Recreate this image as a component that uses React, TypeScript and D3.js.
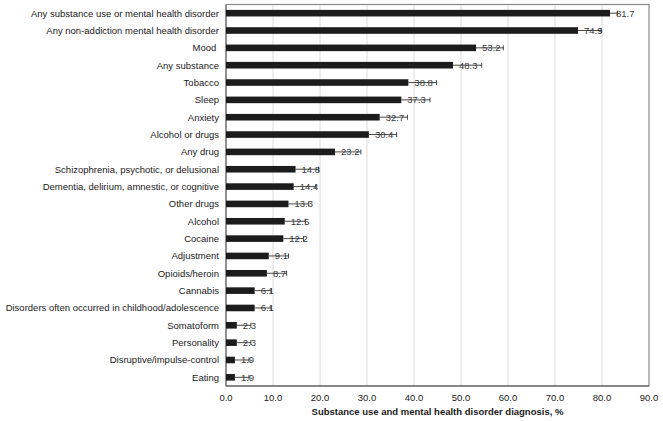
import React from 'react';
import * as d3 from 'd3';

const categories = [
  'Any substance use or mental health disorder',
  'Any non-addiction mental health disorder',
  'Mood\u00a0',
  'Any substance',
  'Tobacco',
  'Sleep',
  'Anxiety',
  'Alcohol or drugs',
  'Any drug',
  'Schizophrenia, psychotic, or delusional',
  'Dementia, delirium, amnestic, or cognitive',
  'Other drugs',
  'Alcohol',
  'Cocaine',
  'Adjustment',
  'Opioids/heroin',
  'Cannabis',
  'Disorders often occurred in childhood/adolescence',
  'Somatoform',
  'Personality',
  'Disruptive/impulse-control',
  'Eating',
];

const values = [81.7, 74.9, 53.2, 48.3, 38.8, 37.3, 32.7, 30.4, 23.2, 14.8, 14.4, 13.3, 12.5, 12.2, 9.1, 8.7, 6.1, 6.1, 2.3, 2.3, 1.9, 1.9];
const upperCI = [83.3, 79.8, 59.0, 54.4, 44.8, 43.4, 38.6, 36.3, 28.7, 19.7, 19.1, 17.6, 16.9, 16.5, 13.3, 12.9, 9.6, 9.6, 5.3, 5.3, 4.9, 4.9];
const xTicks = [0, 10, 20, 30, 40, 50, 60, 70, 80, 90];

const W = 663, H = 421;
const left = 226, right = 649, top = 4.5, bottom = 386;
const FONT = 'Liberation Sans, Arial, sans-serif';

export default function App() {
  const x = d3.scaleLinear().domain([0, 90]).range([left, right]);
  const y = d3.scaleBand().domain(categories).range([top, bottom]).paddingInner(0.62).paddingOuter(0.31);
  const bh = y.bandwidth();

  return (
    <svg width={W} height={H} style={{ position: 'absolute', left: 0, top: 0, background: '#fff' }} fontFamily={FONT}>
      {xTicks.slice(1, -1).map(t => (
        <line key={t} x1={x(t)} x2={x(t)} y1={top} y2={bottom} stroke="#dcdcdc" strokeWidth={1} />
      ))}
      <rect x={left} y={top} width={right - left} height={bottom - top} fill="none" stroke="#8a8a8a" strokeWidth={1.2} />
      <line x1={left} x2={right} y1={bottom} y2={bottom} stroke="#555" strokeWidth={1.2} />
      <line x1={left} x2={left} y1={top} y2={bottom} stroke="#777" strokeWidth={1.2} />
      {categories.map((c, i) => {
        const cy = (y(c) as number) + bh / 2;
        const v = values[i];
        const u = upperCI[i];
        return (
          <g key={c}>
            <text x={219} y={cy} fontSize={9.5} textAnchor="end" dominantBaseline="central" fill="#1a1a1a">{c}</text>
            <rect x={x(0)} y={cy - bh / 2} width={x(v) - x(0)} height={bh} fill="#1c1c1c" />
            <text x={x(v) + 6} y={cy} fontSize={9.5} dominantBaseline="central" fill="#3a3a3a">{v.toFixed(1)}</text>
            <line x1={x(v)} x2={x(u)} y1={cy} y2={cy} stroke="#333" strokeWidth={0.9} />
            <line x1={x(u)} x2={x(u)} y1={cy - 2.5} y2={cy + 2.5} stroke="#333" strokeWidth={0.9} />
          </g>
        );
      })}
      {xTicks.map(t => (
        <text key={t} x={x(t)} y={397} fontSize={9.5} textAnchor="middle" dominantBaseline="central" fill="#1a1a1a">{t.toFixed(1)}</text>
      ))}
      <text x={(left + right) / 2} y={411} fontSize={9.5} fontWeight="bold" textAnchor="middle" dominantBaseline="central" fill="#1a1a1a">
        Substance use and mental health disorder diagnosis, %
      </text>
    </svg>
  );
}
